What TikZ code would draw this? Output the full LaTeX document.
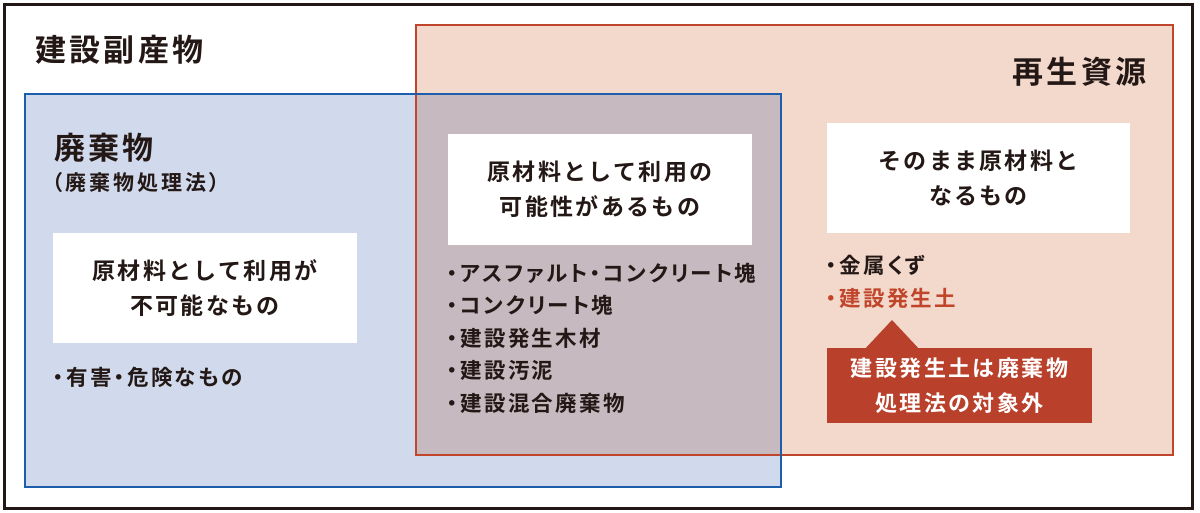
\documentclass[tikz,border=0pt]{standalone}
\usepackage{fontspec}
\setmainfont{Noto Sans CJK JP}[BoldFont={* Bold},RawFeature=+palt]
\newfontfamily\jpfull{Noto Sans CJK JP}[BoldFont={* Bold}]
\definecolor{ink}{HTML}{231815}
\definecolor{bluefill}{HTML}{D1DAEC}
\definecolor{blueline}{HTML}{1C5EAB}
\definecolor{redfill}{HTML}{F3D9CC}
\definecolor{redline}{HTML}{C0452A}
\definecolor{mauve}{HTML}{C6B9BF}
\definecolor{callfill}{HTML}{B9402A}
\newcommand{\ls}[1]{\addfontfeature{LetterSpace=#1}}
\tikzset{
  whitebox/.style={fill=white,draw=none,inner sep=0pt,align=center,font=\jpfull\fontsize{23}{35}\selectfont\bfseries\ls{10},text=ink},
  listtext/.style={anchor=north west,inner sep=0pt,align=left,font=\fontsize{21.5}{32.5}\selectfont\bfseries\ls{11},text=ink},
  title/.style={inner sep=0pt,font=\fontsize{31}{36}\selectfont\bfseries\ls{11},text=ink}
}
\begin{document}
\begin{tikzpicture}[x=1pt,y=-1pt]
\useasboundingbox (0,0) rectangle (1200,513);
\fill[white] (0,0) rectangle (1200,513);
% regions
\fill[redfill] (416,25) rectangle (1173,455);
\fill[bluefill] (25,94) rectangle (781,487);
\fill[mauve] (416,94) rectangle (781,455);
\draw[redline,line width=2.8pt] (416,25) rectangle (1173,455);
\draw[blueline,line width=2.8pt] (25,94) rectangle (781,487);
\draw[ink,line width=3pt] (4,5) rectangle (1192,508);
% titles
\node[title,anchor=west] (t1) at (35,50) {建設副産物};
\node[title,anchor=east] (t2) at (1147,72) {再生資源};
\node[title,anchor=west] (t3) at (54,148) {廃棄物};
\node[inner sep=0pt,anchor=west,font=\fontsize{21}{24}\selectfont\bfseries\ls{14},text=ink] (t4) at (52,183) {（廃棄物処理法）};
% white boxes
\node[whitebox,minimum width=304pt,minimum height=110pt] (b1) at (205,288) {原材料として利用が\\不可能なもの};
\node[whitebox,minimum width=304pt,minimum height=111pt] (b2) at (600,189.5) {原材料として利用の\\可能性があるもの};
\node[whitebox,minimum width=303pt,minimum height=110pt] (b3) at (978.5,178) {そのまま原材料と\\なるもの};
% lists
\node[listtext] (l1) at (53,367) {・有害・危険なもの};
\node[listtext] (l2) at (447,263) {・アスファルト・コンクリート塊\\・コンクリート塊\\・建設発生木材\\・建設汚泥\\・建設混合廃棄物};
\node[listtext] (l3) at (826,255) {・金属くず\\\textcolor{redline}{・建設発生土}};
% callout
\node[fill=callfill,inner sep=0pt,minimum width=265pt,minimum height=75pt,align=center,text=white,font=\jpfull\fontsize{22}{35}\selectfont\bfseries\ls{11}] (c) at (959.5,385.5) {建設発生土は廃棄物\\処理法の対象外};
\coordinate (apex) at (892,320);
\fill[callfill] (apex) -- ([xshift=-26pt]apex |- c.north) -- ([xshift=26pt]apex |- c.north) -- cycle;
\end{tikzpicture}
\end{document}
